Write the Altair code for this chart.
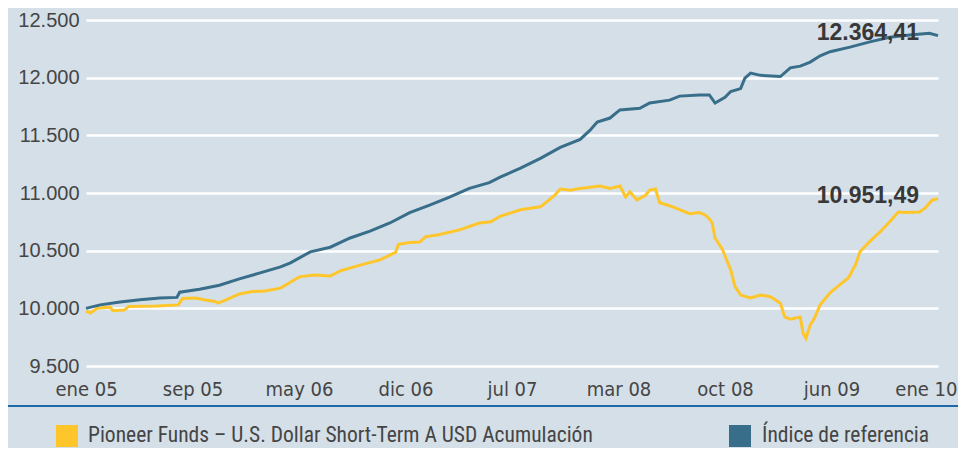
import json
import altair as alt
import pandas as pd

# ---------------- data ----------------
SERIES = ["Pioneer Funds – U.S. Dollar Short-Term  A USD Acumulación", "Índice de referencia"]
COLORS = ["#FFC62C", "#386E8A"]

X_LABELS = ["ene 05", "sep 05", "may 06", "dic 06", "jul 07", "mar 08", "oct 08", "jun 09", "ene 10"]
Y_TICKS = [9500, 10000, 10500, 11000, 11500, 12000, 12500]

# months since ene 05
IDX_T = [0, 1.0, 2.4, 3.8, 5.2, 6.4, 6.6, 8.0, 9.4, 10.8, 12.2, 13.7, 14.4, 15.8, 17.2, 18.6,
         20.0, 21.4, 22.8, 24.2, 25.6, 27.0, 28.4, 29.2, 30.6, 32.0, 33.4, 34.8, 35.5, 36.0,
         36.9, 37.6, 39.0, 39.7, 41.1, 41.8, 43.2, 43.9, 44.3, 45.0, 45.4, 46.1, 46.4, 46.8,
         47.5, 48.9, 49.6, 50.3, 51.0, 51.7, 52.4, 53.8, 55.2, 56.6, 58.0, 59.4, 60.0]
IDX_V = [10000, 10030, 10055, 10075, 10090, 10095, 10140, 10165, 10200, 10255, 10305, 10360,
         10395, 10490, 10530, 10610, 10670, 10740, 10830, 10895, 10965, 11040, 11090, 11140,
         11215, 11300, 11395, 11465, 11545, 11615, 11650, 11720, 11735, 11780, 11805, 11840,
         11850, 11850, 11780, 11830, 11880, 11905, 11995, 12040, 12020, 12010, 12085, 12100,
         12135, 12190, 12225, 12265, 12310, 12350, 12370, 12385, 12364.41]

FUND_T = [0, 0.3, 0.8, 1.7, 1.9, 2.7, 3.0, 5.0, 6.5, 6.8, 7.7, 8.5, 9.1, 9.3, 9.9, 10.8, 11.7,
          12.6, 13.7, 14.5, 15.0, 15.1, 16.1, 17.2, 17.9, 19.3, 20.7, 21.8, 22.0, 22.8, 23.5,
          23.9, 24.9, 26.3, 27.7, 28.5, 29.2, 30.6, 32.0, 33.0, 33.4, 34.1, 34.8, 36.2, 36.9,
          37.6, 38.0, 38.3, 38.8, 39.4, 39.7, 40.1, 40.4, 41.1, 41.8, 42.5, 43.2, 43.6, 43.9,
          44.1, 44.3, 44.8, 45.4, 45.7, 46.1, 46.8, 47.5, 48.2, 48.9, 49.2, 49.6, 50.3, 50.5,
          50.7, 51.0, 51.3, 51.7, 52.4, 53.1, 53.7, 54.2, 54.5, 55.2, 55.9, 56.6, 57.2, 57.7,
          58.7, 59.1, 59.6, 60.0]
FUND_V = [9975, 9960, 10000, 10010, 9980, 9985, 10015, 10020, 10030, 10085, 10090, 10070,
          10060, 10045, 10075, 10125, 10145, 10150, 10175, 10235, 10270, 10275, 10290, 10280,
          10325, 10375, 10420, 10485, 10555, 10570, 10575, 10620, 10640, 10680, 10740, 10750,
          10800, 10855, 10880, 10980, 11035, 11025, 11040, 11060, 11040, 11060, 10965, 11010,
          10940, 10980, 11025, 11035, 10915, 10890, 10855, 10820, 10830, 10810, 10775, 10740,
          10610, 10515, 10335, 10190, 10115, 10090, 10115, 10100, 10045, 9925, 9905, 9925,
          9785, 9740, 9855, 9915, 10030, 10135, 10205, 10265, 10380, 10490, 10580, 10660,
          10750, 10835, 10830, 10835, 10870, 10940, 10951.49]

# ---------------- tables ----------------
df = pd.concat([
    pd.DataFrame({"t": FUND_T, "v": FUND_V, "s": SERIES[0], "o": 0}),
    pd.DataFrame({"t": IDX_T, "v": IDX_V, "s": SERIES[1], "o": 1}),
], ignore_index=True)
last = pd.DataFrame({"t": [FUND_T[-1], IDX_T[-1]], "v": [FUND_V[-1], IDX_V[-1]], "s": SERIES})

BG = "#D4DFE7"
TXT = "#454545"
FONT = "Liberation Sans"
NARROW_A = "'DejaVu Sans Condensed', 'Liberation Sans', sans-serif"
NARROW_B = "'Roboto Condensed', 'DejaVu Sans Condensed', 'Liberation Sans', sans-serif"

color = alt.Color("s:N", scale=alt.Scale(domain=SERIES, range=COLORS), legend=None)

x_enc = alt.X(
    "t:Q",
    scale=alt.Scale(domain=[0, 60], nice=False, zero=False),
    axis=alt.Axis(
        values=[i * 7.5 for i in range(len(X_LABELS))],
        labelExpr=json.dumps(X_LABELS) + "[round(datum.value / 7.5)]",
        title=None, grid=False, domain=False, ticks=False,
        labelFont=NARROW_A, labelFontSize=20, labelColor=TXT, labelPadding=13,
        labelFlush=False,
        labelAlign=alt.expr("datum.value >= 60 ? 'right' : 'center'"),
        labelOffset=alt.expr("datum.value >= 60 ? 19 : 0"),
    ),
)
y_enc = alt.Y(
    "v:Q",
    scale=alt.Scale(domain=[Y_TICKS[0], Y_TICKS[-1]], nice=False, zero=False),
    axis=alt.Axis(
        values=Y_TICKS,
        labelExpr="replace(format(datum.value, ',.0f'), ',', '.')",
        title=None, domain=False, ticks=False, grid=True,
        gridColor="#FFFFFF", gridWidth=2.5, gridOpacity=1,
        labelFont=FONT, labelFontSize=20, labelColor=TXT, labelPadding=7,
    ),
)

lines = alt.Chart(df).mark_line(strokeWidth=3, strokeJoin="miter").encode(
    x=x_enc, y=y_enc, color=color, detail="s:N", order="o:Q"
)

labels = alt.Chart(last).transform_calculate(
    lab="replace(replace(replace(format(datum.v, ',.2f'), ',', '#'), '.', ','), '#', '.')"
).mark_text(
    align="right", baseline="middle", dx=-19, dy=-3,
    font=FONT, fontWeight="bold", fontSize=23, color="#383838",
).encode(x="t:Q", y="v:Q", text="lab:N")

rule = alt.Chart(pd.DataFrame({"a": [0]})).mark_rule(color="#1E6AA8", strokeWidth=2).encode(
    x=alt.value(-83), x2=alt.value(872), y=alt.value(386)
)

leg_df = pd.DataFrame({"s": SERIES})
sq_x = [-19, 654]
tx_x = [2, 676]
legend_layers = []
for i, name in enumerate(SERIES):
    d = leg_df[leg_df["s"] == name]
    legend_layers.append(
        alt.Chart(d).mark_square(size=484, opacity=1).encode(
            x=alt.value(sq_x[i]), y=alt.value(416), color=color
        )
    )
    legend_layers.append(
        alt.Chart(d).mark_text(align="left", baseline="middle", font=NARROW_B,
                               fontSize=21.5, color=TXT).encode(
            x=alt.value(tx_x[i]), y=alt.value(416), text="s:N"
        )
    )

chart = alt.layer(lines, labels, rule, *legend_layers).properties(
    width=852, height=346,
    background=BG,
    padding={"left": 78, "top": 12, "right": 20, "bottom": 82},
    autosize=alt.AutoSizeParams(type="none"),
).configure_view(stroke=None, fill=BG)

chart.save("out.html", embed_options={"renderer": "svg", "actions": False})
